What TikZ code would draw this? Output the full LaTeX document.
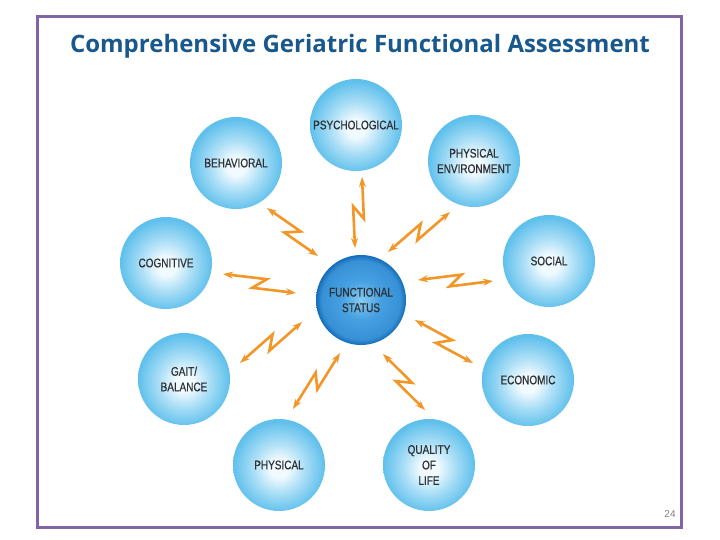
\documentclass[tikz,border=0pt]{standalone}
\usepackage{fontspec}
\setmainfont{Liberation Sans}
\newfontfamily\titlefont{Open Sans}
\newfontfamily\labfont[FakeStretch=0.8,FakeBold=0.6]{Liberation Sans}
\usetikzlibrary{arrows.meta,calc}
\definecolor{frameC}{RGB}{128,100,168}
\definecolor{titleC}{RGB}{24,88,140}
\definecolor{labC}{RGB}{45,48,52}
\definecolor{ballin}{RGB}{240,250,255}
\definecolor{ballmid}{RGB}{170,222,246}
\definecolor{ballout}{RGB}{95,192,236}
\definecolor{corein}{RGB}{135,203,242}
\definecolor{coremid}{RGB}{70,160,225}
\definecolor{coreout}{RGB}{20,108,185}
\definecolor{boltC}{RGB}{242,150,40}
\pgfdeclareradialshading{ballshade}{\pgfpoint{0bp}{-2bp}}{color(0bp)=(ballin); color(5bp)=(ballin); color(14bp)=(ballmid); color(25bp)=(ballout); color(50bp)=(ballout)}
\pgfdeclareradialshading{coreshade}{\pgfpoint{0bp}{0bp}}{color(0bp)=(corein); color(11bp)=(coremid); color(22bp)=(coremid!70!coreout); color(25bp)=(coreout); color(50bp)=(coreout)}
\tikzset{
  ball/.style={circle, minimum size=92pt, inner sep=0pt, shading=ballshade,
    text=labC, font=\labfont\fontsize{12.5}{15.5}\selectfont, align=center},
  core/.style={ball, minimum size=90pt, shading=coreshade},
  bolt/.style={draw=boltC, line width=2.6pt, line join=miter,
    {Stealth[length=10pt,width=7pt]}-{Stealth[length=10pt,width=7pt]}},
}
\newcommand\boltline[2]{\draw[bolt] (#1) -- ($(#1)!0.58!(#2)!6pt!90:(#2)$) -- ($(#1)!0.42!(#2)!6pt!-90:(#2)$) -- (#2);}
\begin{document}
\begin{tikzpicture}[x=1pt,y=-1pt]
\useasboundingbox (0,0) rectangle (720,540);
\fill[white] (0,0) rectangle (720,540);
\draw[frameC, line width=3pt] (37,17) rectangle (681,527);
\node[anchor=base, text=titleC, font=\titlefont\bfseries\fontsize{24}{28}\selectfont] (title) at (360,53) {Comprehensive Geriatric Functional Assessment};

\node[core] (fs) at (361,300) {FUNCTIONAL\\STATUS};
\node[ball] (psy) at (356,125) {PSYCHOLOGICAL};
\node[ball] (beh) at (236,163) {BEHAVIORAL};
\node[ball] (env) at (474,161) {PHYSICAL\\ENVIRONMENT};
\node[ball] (cog) at (166,263) {COGNITIVE};
\node[ball] (soc) at (549,261) {SOCIAL};
\node[ball] (gait) at (184,379) {GAIT/\\BALANCE};
\node[ball] (eco) at (528,380) {ECONOMIC};
\node[ball] (phy) at (279,465) {PHYSICAL};
\node[ball] (qol) at (429,465) {QUALITY\\OF\\LIFE};

\coordinate (p1) at (362,177); \coordinate (q1) at (355,248);
\coordinate (p2) at (267,208); \coordinate (q2) at (318,256);
\coordinate (p3) at (450,212); \coordinate (q3) at (388,252);
\coordinate (p4) at (223,274); \coordinate (q4) at (296,293);
\coordinate (p5) at (493,281); \coordinate (q5) at (418,280);
\coordinate (p6) at (240,363); \coordinate (q6) at (302,322);
\coordinate (p7) at (473,363); \coordinate (q7) at (415,320);
\coordinate (p8) at (293,409); \coordinate (q8) at (340,353);
\coordinate (p9) at (425,410); \coordinate (q9) at (383,354);
\boltline{p1}{q1}
\boltline{p2}{q2}
\boltline{p3}{q3}
\boltline{p4}{q4}
\boltline{p5}{q5}
\boltline{p6}{q6}
\boltline{p7}{q7}
\boltline{p8}{q8}
\boltline{p9}{q9}

\node[text=gray, font=\fontsize{10}{12}\selectfont] (pg) at (670,514) {24};
\end{tikzpicture}
\end{document}
